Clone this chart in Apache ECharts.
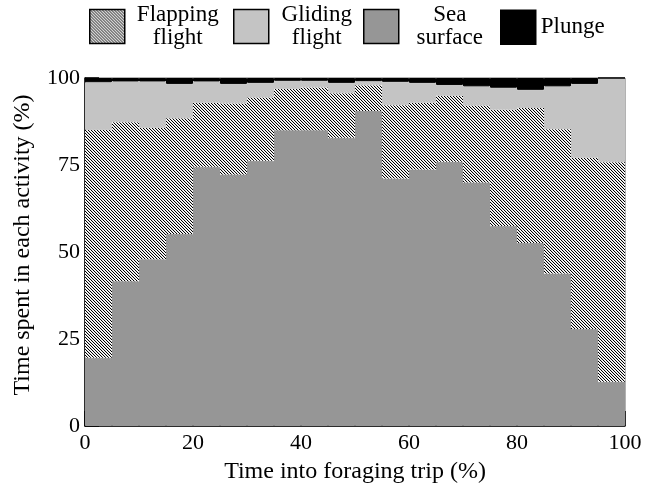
<!DOCTYPE html>
<html>
<head>
<meta charset="utf-8">
<script src="https://cdn.jsdelivr.net/npm/echarts@6/dist/echarts.min.js"></script>
<style>html,body{margin:0;padding:0;background:#fff}#c{width:651px;height:489px}</style>
</head>
<body>
<div id="c"></div>
<script>
const categories = ['0-5','5-10','10-15','15-20','20-25','25-30','30-35','35-40','40-45','45-50','50-55','55-60','60-65','65-70','70-75','75-80','80-85','85-90','90-95','95-100'];
const seaSurface = [19.6,41.6,47.9,55.2,74.5,72.3,76.2,85.0,85.0,82.8,90.5,71.1,73.7,75.9,70.0,57.5,52.6,43.8,27.9,12.7];
const flapping   = [65.5,45.7,37.8,33.2,18.4,20.4,18.2,11.9,12.3,12.8,7.4,21.1,19.2,19.0,22.1,33.4,38.8,41.5,49.2,63.1];
const gliding    = [13.7,11.7,13.3,9.9,6.1,5.6,4.2,2.3,1.9,3.0,1.2,6.7,5.7,3.1,5.5,6.3,5.2,12.3,21.2,24.2];
const plunge     = [1.2,1.0,1.0,1.7,1.0,1.7,1.4,0.8,0.8,1.4,0.9,1.1,1.4,2.0,2.4,2.8,3.4,2.4,1.7,0];
const xTicks = [0,20,40,60,80,100];
const yTicks = [0,25,50,75,100];
const legendLines = {'Flapping flight':['Flapping','flight'],'Gliding flight':['Gliding','flight'],'Sea surface':['Sea','surface'],'Plunge':['Plunge']};

const FONT = 'Liberation Serif';

// hatch pattern "\\\\"
const tile = document.createElement('canvas');
const P = 3;
tile.width = P; tile.height = P;
const tctx = tile.getContext('2d');
const img = tctx.createImageData(P, P);
const shades = [0, 225, 255];
for (let y = 0; y < P; y++) for (let x = 0; x < P; x++) {
  const k = ((x - y) % P + P) % P;
  const v = shades[k];
  const i = (y * P + x) * 4;
  img.data[i] = v; img.data[i+1] = v; img.data[i+2] = v; img.data[i+3] = 255;
}
tctx.putImageData(img, 0, 0);
const hatch = {image: tile, repeat: 'repeat'};

const chart = echarts.init(document.getElementById('c'), null, {renderer: 'canvas'});

function mkLegend(name, left, top, width) {
  return {
    data: [name], left: left, top: top, padding: 0, orient: 'horizontal',
    itemWidth: 35, itemHeight: 34, itemGap: 0, selectedMode: false,
    icon: 'rect',
    itemStyle: {borderColor: '#000', borderWidth: 1.5},
    formatter: function (n) { return legendLines[n].map(function (l) { return '{t|' + l + '}'; }).join('\n'); },
    textStyle: {
      fontFamily: FONT, fontSize: 23, color: '#000',
      rich: {t: {fontFamily: FONT, fontSize: 23, lineHeight: 23, color: '#000', width: width, align: width ? 'center' : 'left'}}
    }
  };
}

function barSeries(name, data, color, stroke) {
  return {
    name: name, type: 'bar', stack: 'a', xAxisIndex: 0, data: data,
    barWidth: '100%', barCategoryGap: '0%', barGap: '0%',
    itemStyle: stroke ? {color: color, borderColor: color, borderWidth: 1} : {color: color, borderWidth: 0},
    emphasis: {disabled: true}
  };
}

const option = {
  animation: false,
  backgroundColor: '#fff',
  grid: {left: 85, right: 26, top: 78, bottom: 60, show: true, borderColor: '#666', borderWidth: 1, backgroundColor: 'transparent'},
  legend: [
    mkLegend('Flapping flight', 89, 3.5, 96),
    mkLegend('Gliding flight', 233, 3.5, 86),
    mkLegend('Sea surface', 363, 3.5, 92),
    mkLegend('Plunge', 500, 9.5, 0)
  ],
  xAxis: [
    {type: 'category', data: categories, show: false, boundaryGap: true},
    {type: 'value', min: xTicks[0], max: xTicks[xTicks.length-1], interval: 20, position: 'bottom',
     name: 'Time into foraging trip (%)', nameLocation: 'middle', nameGap: 34,
     nameTextStyle: {fontFamily: FONT, fontSize: 24, color: '#000', width: 500, overflow: 'none'},
     axisLine: {show: true, lineStyle: {color: '#000', width: 1.5}},
     axisTick: {show: true, inside: true, length: 15, lineStyle: {color: '#000', width: 1.5}},
     axisLabel: {fontFamily: FONT, fontSize: 22, color: '#000', margin: 6},
     splitLine: {show: false}}
  ],
  yAxis: {
    type: 'value', min: yTicks[0], max: yTicks[yTicks.length-1], interval: 25,
    name: 'Time spent in each activity (%)', nameLocation: 'middle', nameGap: 50,
    nameTruncate: {maxWidth: 600},
    nameTextStyle: {fontFamily: FONT, fontSize: 24, color: '#000', width: 500, overflow: 'none', padding: [0, 0, 0, 14]},
    axisLine: {show: true, lineStyle: {color: '#000', width: 1.5}},
    axisTick: {show: true, inside: true, length: 14, lineStyle: {color: '#000', width: 1.5}},
    axisLabel: {fontFamily: FONT, fontSize: 22, color: '#000', margin: 5},
    splitLine: {show: false}
  },
  series: [
    barSeries('Sea surface', seaSurface, '#969696', true),
    barSeries('Flapping flight', flapping, hatch, false),
    barSeries('Gliding flight', gliding, '#c4c4c4', true),
    barSeries('Plunge', plunge, '#000', true)
  ]
};
chart.setOption(option);
</script>
</body>
</html>
